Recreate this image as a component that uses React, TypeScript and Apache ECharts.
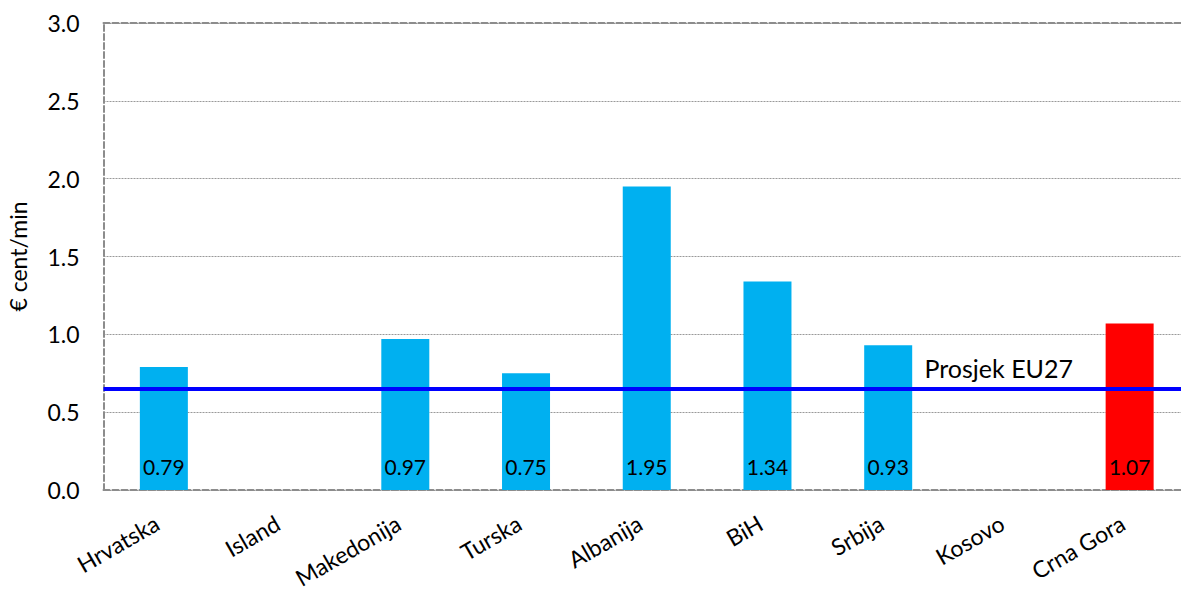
import React, { useEffect, useRef } from "react";
import * as echarts from "echarts";

const categories = ["Hrvatska", "Island", "Makedonija", "Turska", "Albanija", "BiH", "Srbija", "Kosovo", "Crna Gora"];
const values: (number | null)[] = [0.79, null, 0.97, 0.75, 1.95, 1.34, 0.93, null, 1.07];
const highlightIndex = 8;
const eu27Average = 0.645;
const eu27Label = "Prosjek EU27";
const yAxisName = "€ cent/min";

const FONT = "Lato";

export default function App() {
  const ref = useRef<HTMLDivElement>(null);
  useEffect(() => {
    if (!ref.current) return;
    const chart = echarts.init(ref.current, undefined, { renderer: "svg" });
    const dash = { color: "#8c8c8c", width: 2, type: [6, 3] as any };
    chart.setOption({
      animation: false,
      backgroundColor: "#fff",
      textStyle: { fontFamily: FONT },
      grid: { left: 103.5, top: 23, bottom: 101, right: 0, containLabel: false, outerBoundsMode: "none" },
      xAxis: [
        {
          type: "category",
          data: categories,
          axisLine: { show: true, lineStyle: dash },
          axisTick: { show: false },
          axisLabel: {
            rotate: 30,
            fontSize: 23,
            color: "#000",
            fontFamily: FONT,
            margin: 27,
            interval: 0,
            padding: [0, 8, 0, 0],
          },
        },
        {
          type: "category",
          position: "top",
          data: categories,
          axisLine: { show: true, lineStyle: dash },
          axisTick: { show: false },
          axisLabel: { show: false },
        },
      ],
      yAxis: {
        type: "value",
        min: 0,
        max: 3,
        interval: 0.5,
        name: yAxisName,
        nameLocation: "middle",
        nameGap: 74,
        nameTextStyle: { fontSize: 23, color: "#000", fontFamily: FONT },
        axisLine: { show: true, lineStyle: dash },
        axisTick: { show: false },
        axisLabel: { fontSize: 23, color: "#000", fontFamily: FONT, margin: 24, formatter: (v: number) => v.toFixed(1) },
        splitLine: { show: true, lineStyle: { color: "#999", width: 1, type: [2, 1] } },
      },
      series: [
        {
          type: "bar",
          barWidth: 48,
          data: values.map((v, i) => ({
            value: v,
            itemStyle: { color: i === highlightIndex ? "#FF0000" : "#00B0F0" },
          })),
          label: {
            show: true,
            position: "insideBottom",
            distance: 13,
            fontSize: 21,
            color: "#000",
            fontFamily: FONT,
            formatter: (p: any) => (p.value == null ? "" : Number(p.value).toFixed(2)),
          },
          markLine: {
            silent: true,
            symbol: "none",
            lineStyle: { color: "#0000FF", width: 4, type: "solid" },
            label: {
              show: true,
              position: "insideEndTop",
              formatter: eu27Label,
              fontSize: 25,
              color: "#000",
              fontFamily: FONT,
              padding: [0, 112, 3, 0],
            },
            data: [{ yAxis: eu27Average }],
          },
        },
      ],
    });
    return () => chart.dispose();
  }, []);
  return (
    <div style={{ position: "fixed", left: 0, top: 0, width: 1181, height: 591, overflow: "hidden", background: "#fff" }}>
      <div ref={ref} style={{ width: 1190, height: 591 }} />
    </div>
  );
}
